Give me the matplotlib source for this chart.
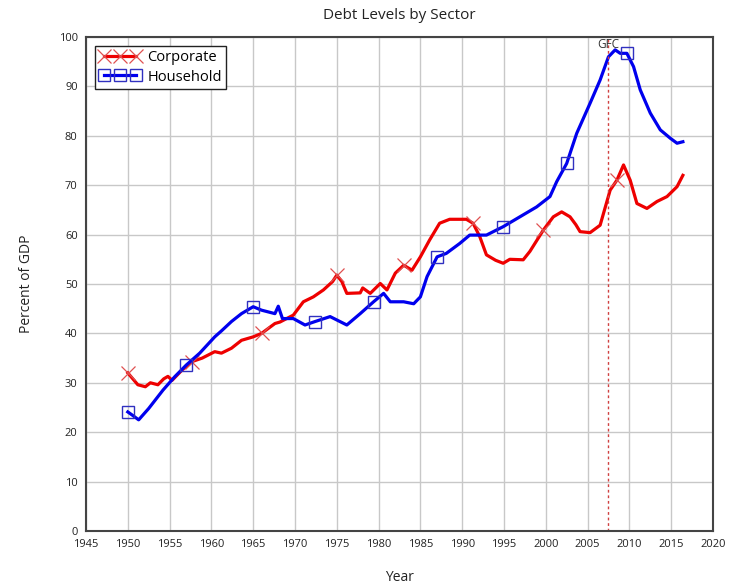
import numpy as np
import matplotlib
matplotlib.use("Agg")
import matplotlib.pyplot as plt

plt.rcParams['font.family'] = ['Open Sans', 'DejaVu Sans']

# Corporate debt, percent of GDP
corp_years = [1950.0, 1950.5, 1951.2, 1952.1, 1952.7, 1953.6, 1954.3, 1954.8, 1955.3, 1956.5,
              1957.7, 1958.9, 1960.4, 1961.2, 1962.4, 1963.6, 1965.0, 1966.0, 1967.6, 1968.2,
              1969.8, 1971.0, 1972.2, 1973.4, 1974.5, 1975.0, 1975.6, 1976.2, 1977.8, 1978.1,
              1979.0, 1980.2, 1981.0, 1982.0, 1983.0, 1984.0, 1985.0, 1986.1, 1987.3, 1988.5,
              1990.5, 1991.3, 1992.1, 1992.9, 1994.0, 1994.9, 1995.7, 1997.3, 1998.1, 1999.7,
              2000.9, 2001.9, 2002.9, 2003.6, 2004.1, 2005.3, 2006.5, 2007.7, 2008.5, 2009.3,
              2010.1, 2010.9, 2012.1, 2013.3, 2014.5, 2015.7, 2016.4]
corp_values = [32.0, 31.0, 29.6, 29.2, 30.0, 29.6, 30.8, 31.3, 30.5, 32.6,
               34.3, 35.0, 36.3, 36.0, 37.0, 38.6, 39.3, 40.0, 42.0, 42.3,
               43.7, 46.4, 47.4, 48.8, 50.5, 51.8, 50.5, 48.1, 48.2, 49.2,
               48.1, 50.1, 48.8, 52.2, 53.8, 52.8, 55.5, 58.9, 62.3, 63.1,
               63.1, 62.3, 59.6, 55.9, 54.8, 54.2, 55.0, 54.9, 56.6, 60.9,
               63.6, 64.6, 63.6, 62.0, 60.6, 60.4, 61.9, 69.0, 71.0, 74.1,
               71.0, 66.3, 65.3, 66.7, 67.7, 69.7, 72.0]

# Household debt, percent of GDP
hh_years = [1950.0, 1950.5, 1951.3, 1952.5, 1954.2, 1955.6, 1957.0, 1958.6, 1960.4, 1961.2,
            1962.4, 1963.6, 1965.0, 1966.0, 1967.6, 1968.0, 1968.5, 1969.8, 1971.2, 1972.4,
            1974.2, 1976.2, 1977.8, 1979.4, 1980.6, 1981.4, 1983.0, 1984.2, 1985.0, 1985.8,
            1987.0, 1988.1, 1989.7, 1990.9, 1992.9, 1994.9, 1996.9, 1998.9, 2000.5, 2001.3,
            2002.5, 2003.7, 2005.3, 2006.5, 2007.5, 2008.3, 2008.9, 2009.7, 2010.5, 2011.3,
            2012.5, 2013.7, 2014.9, 2015.7, 2016.4]
hh_values = [24.1, 23.5, 22.5, 24.8, 28.5, 31.2, 33.6, 36.0, 39.3, 40.5,
             42.4, 44.0, 45.4, 44.7, 44.0, 45.5, 43.0, 43.0, 41.7, 42.4,
             43.4, 41.7, 44.0, 46.4, 48.1, 46.4, 46.4, 46.0, 47.4, 51.5,
             55.5, 56.2, 58.2, 59.9, 59.9, 61.6, 63.6, 65.6, 67.7, 70.7,
             74.4, 80.5, 86.6, 91.3, 96.0, 97.4, 96.7, 96.7, 94.0, 89.3,
             84.6, 81.2, 79.5, 78.5, 78.8]

corp_marker_years = [1950, 1958.3, 1966.6, 1975, 1983.3, 1991.6, 2000, 2008.3]
hh_marker_years = [1950, 1957.5, 1965, 1972.5, 1980, 1987.5, 1995, 2002.5, 2010]
gfc_year = 2007.5


def nearest_idx(years, targets):
    years = np.asarray(years)
    return [int(np.argmin(np.abs(years - t))) for t in targets]


fig = plt.figure(figsize=(7.37, 5.84), dpi=100)
ax = fig.add_axes([0.1167, 0.0908, 0.8507, 0.8458])

ax.plot(corp_years, corp_values, color='#ee0000', lw=2.3, label='Corporate',
        marker='x', ms=10, mec='#e05050', mew=0.9,
        markevery=nearest_idx(corp_years, corp_marker_years))
ax.plot(hh_years, hh_values, color='#0000ee', lw=2.3, label='Household',
        marker='s', ms=9, mfc='none', mec='#3030c0', mew=1.0,
        markevery=nearest_idx(hh_years, hh_marker_years))

ax.axvline(gfc_year, color='#d04040', lw=1.0, ls=(0, (2, 2)))
ax.text(gfc_year, 99.8, 'GFC', ha='center', va='top', fontsize=8.5, color='#333333')

ax.set_xlim(1945, 2020)
ax.set_ylim(0, 100)
ax.set_xticks(np.arange(1945, 2021, 5))
ax.set_yticks(np.arange(0, 101, 10))
ax.tick_params(length=0, labelsize=8, colors='#222222')
ax.tick_params(axis='x', pad=6)
ax.tick_params(axis='y', pad=6)
ax.grid(True, color='#c8c8c8', lw=1.0)
ax.set_axisbelow(True)
for s in ax.spines.values():
    s.set_color('#444444')
    s.set_linewidth(1.5)

ax.set_title('Debt Levels by Sector', fontsize=11, color='#222222', pad=13)
ax.set_xlabel('Year', fontsize=10, color='#222222', labelpad=14)
ax.set_ylabel('Percent of GDP', fontsize=10, color='#222222', labelpad=18)

leg = ax.legend(loc='upper left', numpoints=3, handlelength=2.8, fontsize=10.5,
                fancybox=False, framealpha=1, edgecolor='#222222',
                borderaxespad=0.6, borderpad=0.3, handletextpad=0.5,
                labelspacing=0.3)
leg.get_frame().set_linewidth(1.0)

fig.savefig('out.png', dpi=100)
